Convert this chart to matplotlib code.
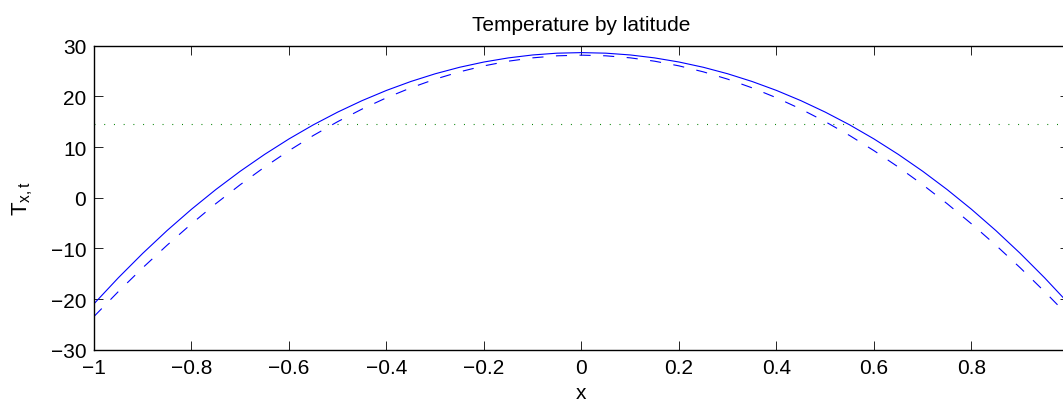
import matplotlib
matplotlib.use("Agg")
import matplotlib.pyplot as plt

# Data
x = [-1.0, -0.95, -0.9, -0.85, -0.8, -0.75, -0.7, -0.65, -0.6, -0.55, -0.5,
     -0.45, -0.4, -0.35, -0.3, -0.25, -0.2, -0.15, -0.1, -0.05, 0.0,
     0.05, 0.1, 0.15, 0.2, 0.25, 0.3, 0.35, 0.4, 0.45, 0.5,
     0.55, 0.6, 0.65, 0.7, 0.75, 0.8, 0.85, 0.9, 0.95, 1.0]
t_solid = [-20.9, -15.77, -10.96, -6.46, -2.27, 1.62, 5.22, 8.54, 11.59, 14.37, 16.88,
           19.14, 21.15, 22.91, 24.43, 25.71, 26.75, 27.56, 28.14, 28.49, 28.6,
           28.49, 28.14, 27.56, 26.75, 25.71, 24.43, 22.91, 21.15, 19.14, 16.88,
           14.37, 11.59, 8.54, 5.22, 1.62, -2.27, -6.46, -10.96, -15.77, -20.9]
t_dashed = [-23.4, -18.49, -13.80, -9.35, -5.14, -1.16, 2.57, 6.05, 9.28, 12.27, 15.00,
            17.48, 19.70, 21.66, 23.37, 24.81, 25.99, 26.91, 27.57, 27.97, 28.1,
            27.97, 27.57, 26.91, 25.99, 24.81, 23.37, 21.66, 19.70, 17.48, 15.00,
            12.27, 9.28, 6.05, 2.57, -1.16, -5.14, -9.35, -13.80, -18.49, -23.4]
t_mean = 14.45
xticks = [-1, -0.8, -0.6, -0.4, -0.2, 0, 0.2, 0.4, 0.6, 0.8]
yticks = [-30, -20, -10, 0, 10, 20, 30]

plt.rcParams['font.family'] = ['Liberation Sans', 'DejaVu Sans']
plt.rcParams['mathtext.fontset'] = 'custom'
plt.rcParams['mathtext.rm'] = 'Liberation Sans'
plt.rcParams['mathtext.it'] = 'Liberation Sans'
plt.rcParams['lines.scale_dashes'] = False

fig = plt.figure(figsize=(10.63, 4.02), dpi=100)
ax = fig.add_axes([0.0884, 0.1269, 1.0056 - 0.0884, 0.8843 - 0.1269])

ax.plot(x, t_solid, color=(0, 0, 1), lw=0.8)
ax.plot(x, t_dashed, color=(0, 0, 1), lw=0.8, dashes=(8.0, 9.0))
ax.plot([-1, 1], [t_mean, t_mean], color=(0, 0.5, 0), lw=0.8, dashes=(0.7, 6.3))

ax.set_xlim(-1, 1)
ax.set_ylim(-30, 30)
ax.set_xticks(xticks)
ax.set_yticks(yticks)
ax.set_xticklabels([("%g" % v).replace('-', '\u2212') for v in xticks])
ax.set_yticklabels([("%g" % v).replace('-', '\u2212') for v in yticks])

ax.tick_params(direction='in', length=6.7, width=0.6, top=True, right=True,
               labelsize=15, colors='black', pad=6)
ax.tick_params(axis='y', pad=5.5)
for s in ax.spines.values():
    s.set_linewidth(1.0)

ax.set_title('Temperature by latitude', fontsize=15, pad=11.5)
ax.set_xlabel('x', fontsize=15, labelpad=4)
ax.set_ylabel(r'$\mathrm{T_{x,t}}$', fontsize=16, labelpad=11)

fig.savefig('out.png', dpi=100)
